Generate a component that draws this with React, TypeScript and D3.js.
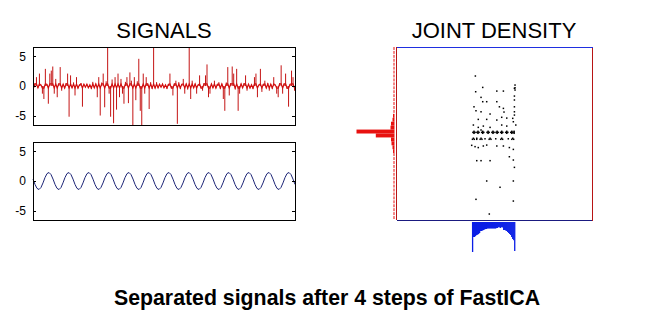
import React from "react";
import * as d3 from "d3";

const W = 656;
const H = 316;

// y-axis ticks shared by both signal panels
const signalTicks = [5, 0, -5];

// separated source 1: sparse, spiky signal
const spikeSignal = [
  -1.9, 0.5, 1.5, -0.3, 2.1, 0.2, -1.3, -2.2, 2.9, 0.3,
  -3.0, 2.1, 2.6, 3.3, -1.3, 1.2, -1.9, 0.4, 3.2, -0.8,
  0.3, -0.4, 0.5, 2.1, -5.2, 1.8, -0.3, 0.6, -1.6, 1.5,
  -0.4, 0.2, 0.5, -3.5, 0.3, -0.2, 0.3, -0.3, 0.2, -0.5,
  0.7, -0.3, 0.4, -1.9, 1.5, -5.0, 0.6, 2.1, -3.6, 0.8,
  6.6, -1.3, -5.2, 1.1, -6.3, 1.5, -4.0, 2.1, -1.9, 1.2,
  -1.3, -3.0, 0.7, 1.5, -2.9, 2.3, 0.9, -6.6, 1.5, -2.4,
  0.8, 4.6, -4.2, -6.6, 2.1, -1.3, 1.5, 0.4, -3.9, 0.65,
  -0.5, 6.6, -0.4, 0.65, -0.3, 0.3, -0.2, 0.4, -0.3, 0.2,
  -0.5, 0.3, 2.1, -0.4, -1.6, 0.4, 0.9, -6.4, 0.65, -0.5,
  0.3, 1.2, -1.3, 0.4, -0.6, 6.6, -2.2, 0.9, -0.3, 0.4,
  -1.3, 0.2, 1.8, -0.4, -0.8, 0.5, 1.8, 3.65, -1.9, -1.3,
  0.4, -0.3, 0.9, -0.4, 0.3, 0.65, -0.5, 0.4, -2.2, -4.2,
  0.6, 3.2, -1.6, 0.5, 3.3, 2.1, -0.6, 2.9, -4.2, -1.3,
  0.4, -0.3, 0.5, 1.8, -0.8, 0.3, -0.4, 0.2, -0.5, 1.5,
  2.1, -1.9, 0.2, 2.9, -1.0, 0.3, 0.9, -0.4, 0.5, -0.8,
  0.3, -0.5, 1.5, 0.2, -1.3, -1.9, 0.5, 3.5, -1.3, 0.4,
  2.1, -0.5, -3.5, 0.3, 2.6, 1.5, -0.8,
];

// separated source 2: sinusoid
const sineSignal = [
  0.32, -0.58, -1.25, -1.44, -1.09, -0.32, 0.58, 1.25, 1.44, 1.09,
  0.33, -0.57, -1.24, -1.45, -1.10, -0.31, 0.59, 1.26, 1.43, 1.08,
  0.32, -0.58, -1.25, -1.44, -1.09, -0.32, 0.58, 1.25, 1.44, 1.09,
  0.31, -0.59, -1.26, -1.44, -1.08, -0.33, 0.57, 1.24, 1.45, 1.10,
  0.32, -0.58, -1.25, -1.44, -1.09, -0.32, 0.58, 1.25, 1.44, 1.09,
  0.33, -0.57, -1.24, -1.45, -1.10, -0.31, 0.59, 1.26, 1.43, 1.08,
  0.32, -0.58, -1.25, -1.44, -1.09, -0.32, 0.58, 1.25, 1.44, 1.09,
  0.31, -0.59, -1.26, -1.44, -1.08, -0.33, 0.57, 1.24, 1.45, 1.10,
  0.32, -0.58, -1.25, -1.44, -1.09, -0.32, 0.58, 1.25, 1.44, 1.09,
  0.33, -0.57, -1.24, -1.45, -1.10, -0.31, 0.59, 1.26, 1.43, 1.08,
  0.32, -0.58, -1.25, -1.44, -1.09, -0.32, 0.58, 1.25, 1.44, 1.09,
  0.31, -0.59, -1.26, -1.44, -1.08, -0.33, 0.57, 1.24, 1.45, 1.10,
  0.32, -0.58, -1.25, -1.44, -1.09, -0.32, 0.58, 1.25, 1.44, 1.09,
  0.32, -0.58,
];

// marginal histogram of the sinusoid (bins from -1.44, width 0.0655)
const sineHistStart = -1.44;
const sineHistWidth = 0.0655;
const sineHist = [
  300, 150, 150, 140, 130, 127, 120, 110, 90, 90,
  85, 80, 75, 70, 70, 65, 65, 65, 65, 65,
  65, 65, 65, 65, 60, 60, 50, 55, 60, 50,
  55, 80, 80, 85, 90, 100, 110, 120, 130, 150,
  170, 182, 290,
];

// marginal histogram of the spiky source (bins from -6.6, width 0.3)
const spikeHistStart = -6.6;
const spikeHistWidth = 0.3;
const spikeHist = [
  10, 10, 10, 10, 10, 10, 10, 10, 10, 10,
  10, 10, 10, 10, 10, 10, 10, 15, 20, 30,
  35, 187, 380, 40, 35, 20, 15, 10, 10, 10,
  10, 10, 10, 10, 10, 10, 10, 10, 10, 10,
  10, 10, 10, 10,
];

// joint samples: [sinusoid value, spiky value]
const jointPoints: [number, number][] = [
  [-1.22, 4.39], [-0.74, 3.52], [1.37, 3.7], [1.37, 3.49], [1.37, 3.32],
  [1.33, 3.45], [-1.2, 3.19], [0.18, 3.24], [0.61, 3.24], [1.33, 2.86],
  [-0.85, 2.76], [1.33, 2.56], [-0.74, 2.43], [-0.48, 2.43], [0.18, 2.43],
  [-1.31, 2.04], [0.35, 2.04], [1.33, 2.04], [0.61, 1.92], [-1.18, 1.74],
  [-0.85, 1.66], [1.33, 1.66], [0.65, 1.64], [-0.26, 1.49], [1.33, 1.41],
  [0.5, 1.24], [0.83, 1.18], [1.22, 1.16], [-1.03, 1.08], [-0.48, 1.08],
  [0.18, 1.03], [1.26, 0.9], [-1.35, 0.65], [0.5, 0.65], [1.42, 0.65],
  [-0.7, 0.57], [0.83, 0.57], [-1.03, 0.47], [-0.26, 0.47], [-0.85, 0.27],
  // dense band around zero
  [-1.31, 0.17], [-1.38, 0.09], [-1.24, 0.09], [-1.31, 0.02], [-1.31, 0.09],
  [-1.05, 0.17], [-1.12, 0.09], [-0.98, 0.09], [-1.05, 0.02], [-1.05, 0.09],
  [-0.74, 0.17], [-0.81, 0.09], [-0.67, 0.09], [-0.74, 0.02], [-0.74, 0.09],
  [-0.39, 0.17], [-0.46, 0.09], [-0.32, 0.09], [-0.39, 0.02], [-0.39, 0.09],
  [-0.07, 0.17], [-0.14, 0.09], [0.0, 0.09], [-0.07, 0.02], [-0.07, 0.09],
  [0.2, 0.17], [0.13, 0.09], [0.27, 0.09], [0.2, 0.02], [0.2, 0.09],
  [0.5, 0.17], [0.43, 0.09], [0.57, 0.09], [0.5, 0.02], [0.5, 0.09],
  [0.83, 0.17], [0.76, 0.09], [0.9, 0.09], [0.83, 0.02], [0.83, 0.09],
  [1.16, 0.17], [1.09, 0.09], [1.23, 0.09], [1.16, 0.02], [1.16, 0.09],
  [1.31, 0.17], [1.31, 0.09], [1.31, 0.02],
  // band just below zero
  [-1.35, -0.36], [-1.41, -0.44], [-1.29, -0.44], [-1.13, -0.36], [-1.13, -0.44],
  [-0.85, -0.36], [-0.91, -0.44], [-0.79, -0.44], [-0.59, -0.4], [-0.26, -0.36],
  [-0.32, -0.44], [-0.2, -0.44], [0.11, -0.4], [0.5, -0.36], [0.44, -0.44],
  [0.56, -0.44], [0.93, -0.4], [1.22, -0.36], [1.16, -0.44], [1.28, -0.44],
  [-1.46, -0.9], [-1.24, -1.0], [-1.03, -1.07], [-0.7, -0.95], [-0.48, -0.88],
  [0.18, -0.95], [0.61, -0.95], [1.0, -1.07], [1.26, -1.21],
  [-1.13, -2.07], [-0.85, -2.07], [-0.26, -2.07], [1.0, -1.77], [1.26, -2.02],
  [1.33, -2.58], [-0.48, -3.62], [0.39, -4.1], [1.26, -3.62], [-1.18, -5.02],
  [1.26, -5.15], [-0.31, -6.14],
];

const FONT = "'Liberation Sans', Arial, Helvetica, sans-serif";

// signal panels
const panelX = d3.scaleLinear().domain([0, 1]).range([33, 295]);
const sigDomain: [number, number] = [-6.6, 6.6];
const topY = d3.scaleLinear().domain(sigDomain).range([125, 47]);
const botY = d3.scaleLinear().domain(sigDomain).range([220, 142]);
const spikeX = d3.scaleLinear().domain([0, spikeSignal.length - 1]).range([33.5, 294.5]);
const sineX = d3.scaleLinear().domain([0, sineSignal.length - 1]).range([33, 295]);

// joint density panel
const jx = d3.scaleLinear().domain([-6.4, 6.4]).range([396, 592]);
const jy = d3.scaleLinear().domain([-6.6, 6.6]).range([220, 47]);
const sineHistLen = d3.scaleLinear().domain([0, 300]).range([0, 30]);
const spikeHistLen = d3.scaleLinear().domain([0, 380]).range([0, 38]);

function PanelFrame({ y }: { y: d3.ScaleLinear<number, number> }) {
  const [x0, x1] = panelX.range();
  const [yb, yt] = y.range();
  return (
    <g>
      <rect x={x0 + 0.5} y={yt + 0.5} width={x1 - x0} height={yb - yt} fill="none" stroke="#000" strokeWidth={1} />
      {signalTicks.map((t) => (
        <g key={t}>
          <line x1={x0} x2={x0 + 3} y1={Math.round(y(t)) + 0.5} y2={Math.round(y(t)) + 0.5} stroke="#000" />
          <line x1={x1 - 3} x2={x1} y1={Math.round(y(t)) + 0.5} y2={Math.round(y(t)) + 0.5} stroke="#000" />
          <text x={26} y={y(t)} dy="0.36em" textAnchor="end" fontSize={12} fontFamily={FONT} fill="#000">
            {t < 0 ? `-${Math.abs(t)}` : `${t}`}
          </text>
        </g>
      ))}
    </g>
  );
}

export default function App() {
  const [jx0, jx1] = jx.range();
  const [jyb, jyt] = jy.range();
  const redBase = 394.5;
  const blueBase = 222;

  // dense spiky trace: each sample rises from the zero line
  const spikePath = spikeSignal
    .map((v, i) => `M${spikeX(i)},${topY(0)}V${topY(v)}`)
    .join("");
  const zeroPath = d3
    .line<number>()
    .x((_, i) => spikeX(i))
    .y((d) => topY(Math.max(-0.35, Math.min(0.35, d))))(spikeSignal) ?? "";

  const sinePath = d3
    .line<number>()
    .x((_, i) => sineX(i))
    .y((d) => botY(d))(sineSignal) ?? "";

  return (
    <svg
      width={W}
      height={H}
      viewBox={`0 0 ${W} ${H}`}
      style={{ position: "absolute", left: 0, top: 0, background: "#fff" }}
    >
      <rect x={0} y={0} width={W} height={H} fill="#fff" />

      <text x={164} y={38} textAnchor="middle" fontSize={22} fontFamily={FONT} fill="#000">
        SIGNALS
      </text>
      <text x={494} y={38} textAnchor="middle" fontSize={22} fontFamily={FONT} fill="#000">
        JOINT DENSITY
      </text>

      <path d={zeroPath} fill="none" stroke="#e01010" strokeWidth={1.2} />
      <path d={spikePath} fill="none" stroke="#c41414" strokeWidth={1} />
      <PanelFrame y={topY} />

      <path d={sinePath} fill="none" stroke="#1c2476" strokeWidth={1} />
      <PanelFrame y={botY} />

      {/* joint scatter */}
      {jointPoints.map(([a, b], i) => (
        <rect key={i} x={jx(a) - 0.7} y={jy(b) - 0.7} width={1.5} height={1.5} fill="#000" />
      ))}

      {/* frame of the joint density plot */}
      <line x1={jx0 + 0.5} x2={jx0 + 0.5} y1={jyt} y2={jyb} stroke="#b81414" />
      <line x1={jx1 + 0.5} x2={jx1 + 0.5} y1={jyt + 1} y2={jyb + 1} stroke="#b81414" />
      <line x1={jx0 + 1} x2={jx1 + 1} y1={jyt + 0.5} y2={jyt + 0.5} stroke="#1f2fe0" />
      <line x1={jx0 + 1} x2={jx1} y1={jyb + 0.5} y2={jyb + 0.5} stroke="#1a1a80" />

      {/* marginal of the spiky source, drawn to the left */}
      {spikeHist.map((c, i) => {
        const lo = spikeHistStart + i * spikeHistWidth;
        const hi = lo + spikeHistWidth;
        const top = jy(hi);
        const h = jy(lo) - top;
        const len = spikeHistLen(c);
        const gap = c <= 10 ? 1 : 0;
        return (
          <rect key={i} x={redBase - len} y={top} width={len} height={h - gap} fill="#e8110f" />
        );
      })}

      {/* marginal of the sinusoid, hanging below */}
      {sineHist.map((c, i) => {
        const lo = sineHistStart + i * sineHistWidth;
        const hi = lo + sineHistWidth;
        return (
          <rect
            key={i}
            x={jx(lo)}
            y={blueBase}
            width={jx(hi) - jx(lo) + 0.3}
            height={sineHistLen(c)}
            fill="#0a1ee6"
          />
        );
      })}

      <text x={327} y={305} textAnchor="middle" fontSize={21.3} fontWeight="bold" fontFamily={FONT} fill="#000">
        Separated signals after 4 steps of FastICA
      </text>
    </svg>
  );
}
